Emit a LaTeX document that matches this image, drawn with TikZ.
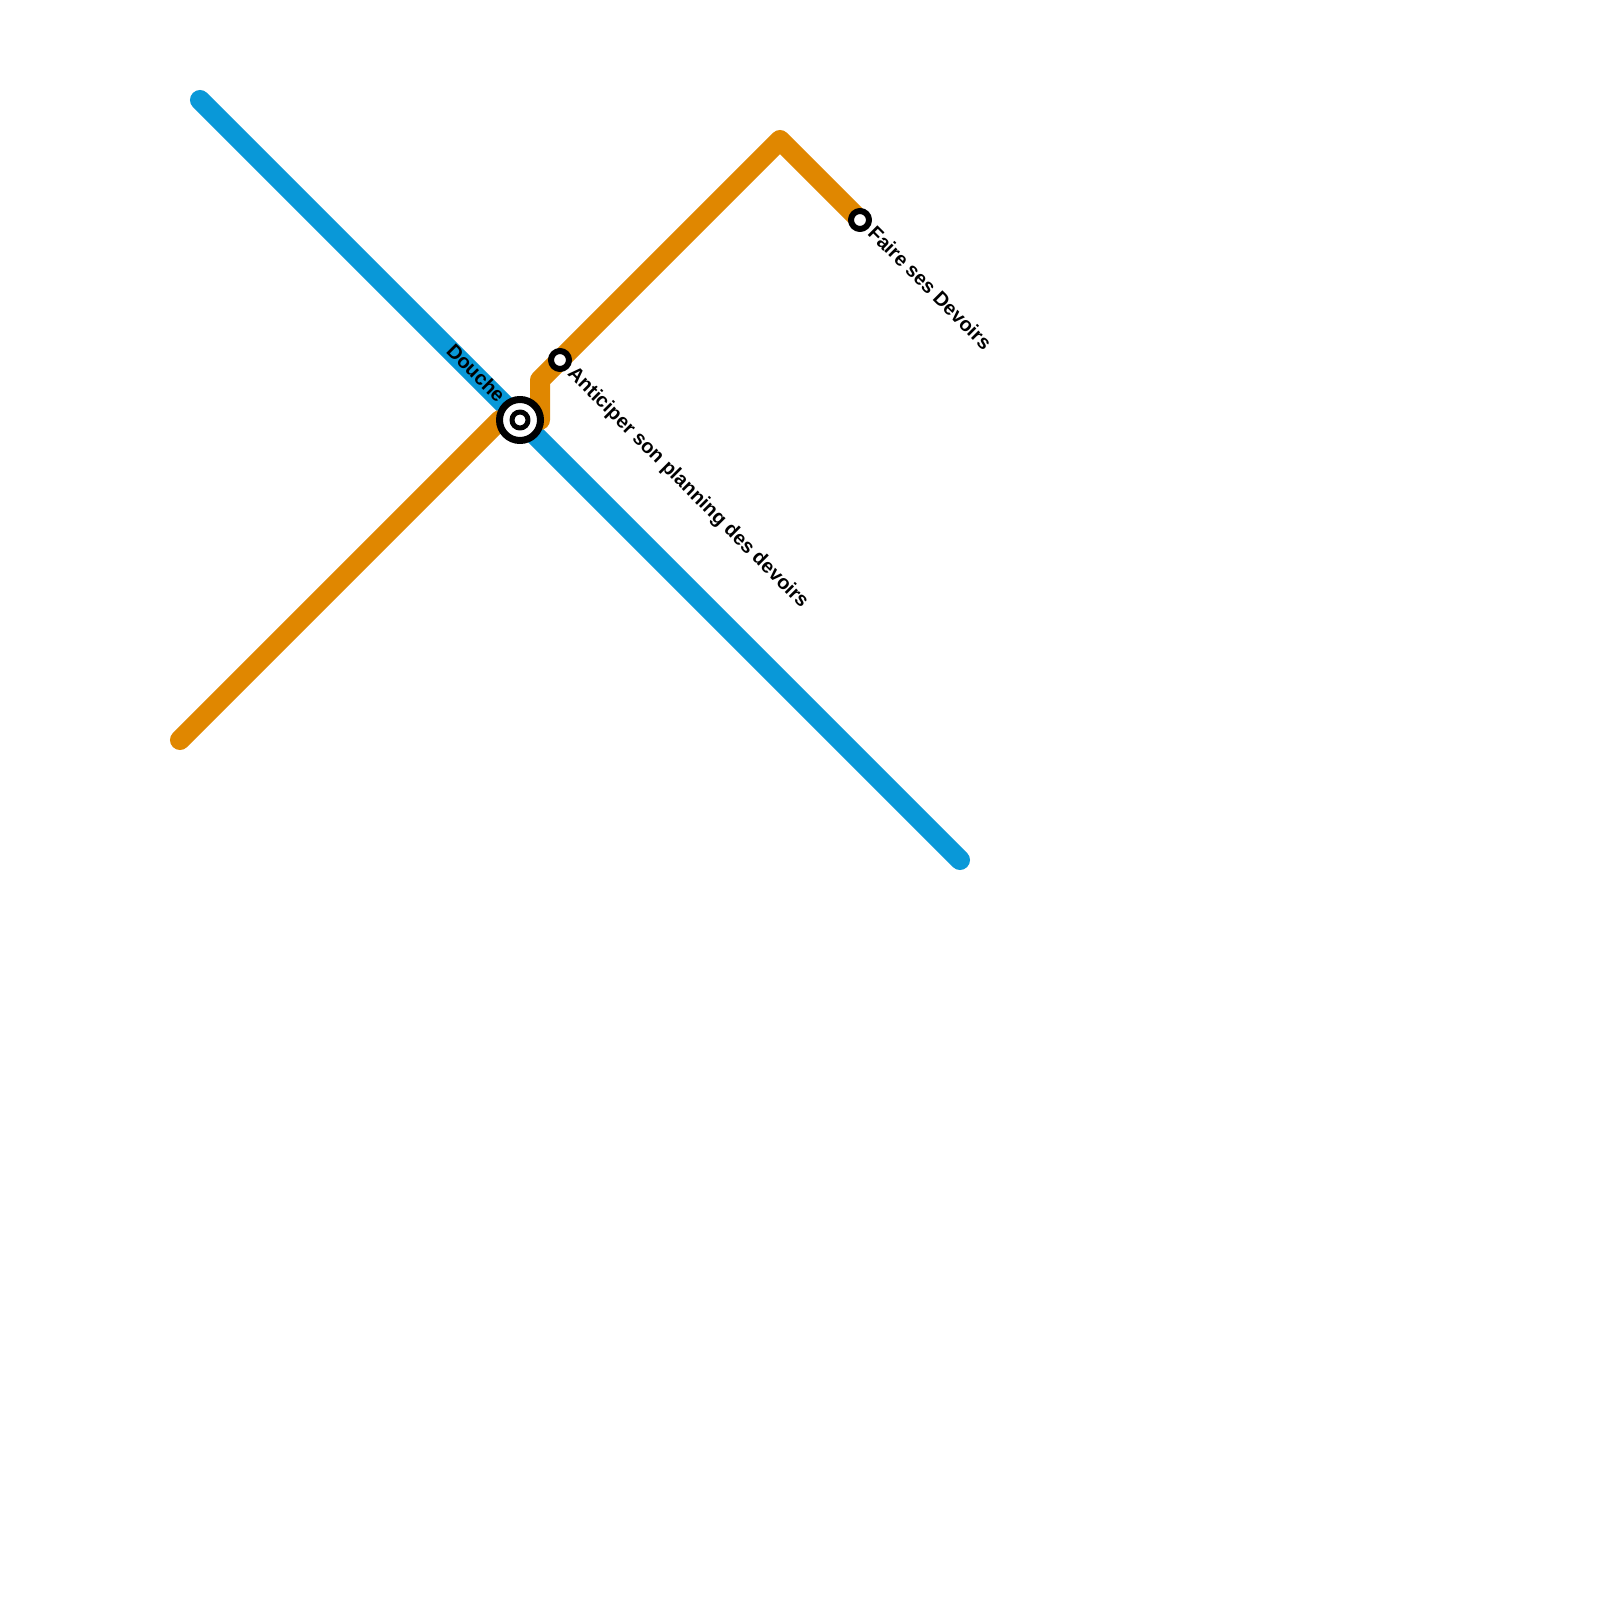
\documentclass[tikz,border=0pt]{standalone}
\usepackage{fontspec}
\setmainfont{Liberation Sans}
\tikzstyle{small station}=[
        draw = black,
        line width = 0.6mm,
        fill = white,
        inner sep = 0pt,
        minimum size = 1.8mm,
        circle
    ]
\tikzstyle{big station}=[
        draw = black,
        line width = 0.7mm,
        fill = white,
        inner sep = 0pt,
        minimum size = 4.1mm,
        circle
    ]
\tikzstyle{inner station}=[
        draw = black,
        line width = 0.5mm,
        fill = white,
        inner sep = 0pt,
        minimum size = 1.6mm,
        circle
    ]
\tikzstyle{station label}=[
        font = \fontsize{5.65pt}{6.8pt}\selectfont\bfseries,
        inner sep = 0pt
    ]

\begin{document}
\begin{tikzpicture}[x=0.01cm, y=-0.01cm, line cap=round, line join=round, blue line/.style = {draw=blueline, line width=2mm}, orange line/.style = {draw=orangeline, line width=2mm}]
        \definecolor{blueline}{RGB}{9,152,216}
        \definecolor{orangeline}{RGB}{224,135,0}
        \useasboundingbox (0,0) rectangle (1600,1600);

        \coordinate (BS) at (200,100);
        \coordinate (BE) at (960,860);
        \coordinate (OS) at (180,740);
        \coordinate (O1) at (500,420);
        \coordinate (O2) at (540,420);
        \coordinate (O3) at (540,380);
        \coordinate (O4) at (780,140);
        \coordinate (F) at (860,220);

        \draw[blue line] (BS) -- (BE);
        \draw[orange line] (OS) -- (O1) -- (O2) -- (O3) -- (O4) -- (F);

        \node[big station] (D) at (520,420) {};
        \node[inner station] (Di) at (520,420) {};
        \node[small station] (A) at (560,360) {};
        \node[small station] (Fa) at (860,220) {};

        \node[station label, rotate=-45, anchor=east] (Dl) at (502.5,399) {Douche};
        \node[station label, rotate=-45, anchor=west] (Al) at (570,370.5) {Anticiper son planning des devoirs};
        \node[station label, rotate=-45, anchor=west] (Fl) at (871.5,229) {Faire ses Devoirs};
    \end{tikzpicture}
\end{document}
